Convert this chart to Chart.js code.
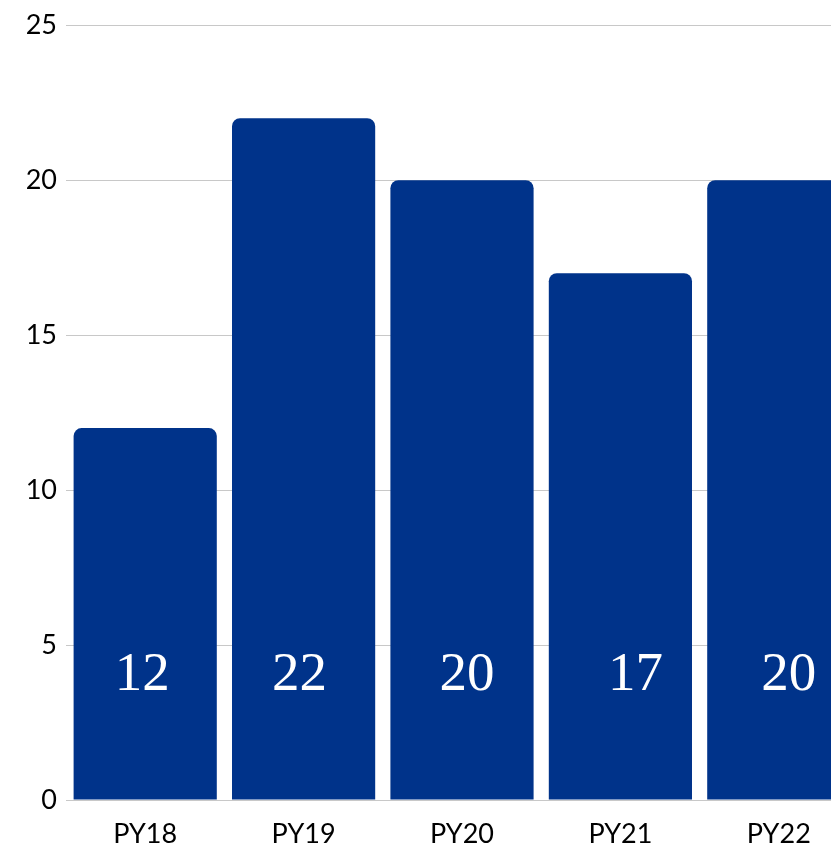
<!DOCTYPE html>
<html>
<head>
<meta charset="utf-8">
<script src="https://cdn.jsdelivr.net/npm/chart.js@4/dist/chart.umd.min.js"></script>
<style>
  html, body { margin: 0; padding: 0; background: #fff; overflow: hidden; }
  #wrap { width: 831px; height: 849px; overflow: hidden; }
</style>
</head>
<body>
<div id="wrap"><canvas id="c" width="858" height="849"></canvas></div>
<script>
// data
const years = ['PY18', 'PY19', 'PY20', 'PY21', 'PY22'];
const counts = [12, 22, 20, 17, 20];
const yTicks = [0, 5, 10, 15, 20, 25];

// value labels inside the bars, drawn near the bottom
const barLabels = {
    id: 'barLabels',
    afterDatasetsDraw(chart, args, opts) {
        const ctx = chart.ctx;
        const meta = chart.getDatasetMeta(0);
        const y = chart.scales.y.getPixelForValue(opts.atValue);
        ctx.save();
        ctx.fillStyle = '#fff';
        ctx.font = opts.font;
        ctx.textAlign = 'center';
        ctx.textBaseline = 'middle';
        meta.data.forEach((bar, i) => {
            const dx = (opts.shift && opts.shift[i]) || 0;
            ctx.fillText(String(counts[i]), bar.x + dx, y);
        });
        ctx.restore();
    }
};

const ctx = document.getElementById('c').getContext('2d');
new Chart(ctx, {
    type: 'bar',
    data: {
        labels: years,
        datasets: [{
            data: counts,
            backgroundColor: '#00338A',
            borderRadius: { topLeft: 8, topRight: 8 },
            borderSkipped: 'start',
            barPercentage: 0.904,
            categoryPercentage: 1
        }]
    },
    options: {
        responsive: false,
        animation: false,
        layout: { padding: { top: 23, right: 0, bottom: 0, left: 0 } },
        plugins: {
            legend: { display: false },
            tooltip: { enabled: false },
            barLabels: { atValue: 4, font: '55px "Liberation Serif", "Times New Roman", serif', shift: [-3, -4, 5, 15, 10] }
        },
        scales: {
            x: {
                afterFit: s => { s.height = 49; },
                grid: { display: false },
                border: { display: false },
                ticks: { color: '#000', padding: 10, font: { family: 'Lato', size: 27 } }
            },
            y: {
                min: 0,
                max: 25,
                afterFit: s => { s.width = 66; },
                afterBuildTicks: s => { s.ticks = yTicks.map(v => ({ value: v })); },
                grid: { color: '#c8c8c8', lineWidth: 1, drawTicks: false },
                border: { display: false },
                ticks: { color: '#000', padding: 9, font: { family: 'Lato', size: 27 } }
            }
        }
    },
    plugins: [barLabels]
});
</script>
</body>
</html>
